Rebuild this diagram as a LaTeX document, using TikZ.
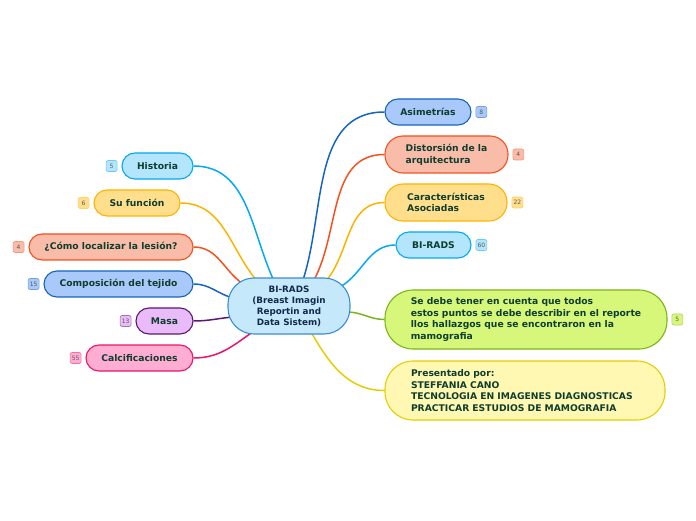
\documentclass[tikz,border=0pt]{standalone}
\usepackage{fontspec}
\setmainfont{DejaVu Sans}
\usetikzlibrary{positioning,backgrounds}

\definecolor{txtcol}{HTML}{0F3D2E}
\definecolor{midtxt}{HTML}{13294B}
\definecolor{midfill}{HTML}{C5E9FB}
\definecolor{midline}{HTML}{3A8DD0}
\definecolor{lbfill}{HTML}{B3E5FC}
\definecolor{lbline}{HTML}{03A9F4}
\definecolor{yefill}{HTML}{FFDF8C}
\definecolor{yeline}{HTML}{FFB300}
\definecolor{orfill}{HTML}{F8BCA9}
\definecolor{orline}{HTML}{F4511E}
\definecolor{blfill}{HTML}{A8C9FA}
\definecolor{blline}{HTML}{1565C0}
\definecolor{pufill}{HTML}{EABBF9}
\definecolor{puline}{HTML}{5B1A72}
\definecolor{pifill}{HTML}{FFADD2}
\definecolor{piline}{HTML}{E8156B}
\definecolor{grfill}{HTML}{D6F77A}
\definecolor{grline}{HTML}{7CB518}
\definecolor{pyfill}{HTML}{FFF8B3}
\definecolor{pyline}{HTML}{E6CD00}

\begin{document}
\begin{tikzpicture}[
  x=1pt, y=1pt,
  node distance=4pt,
  topic/.style 2 args={rectangle, draw=#2, fill=#1, line width=1.1pt,
                       rounded corners=13pt, minimum height=26pt, inner xsep=6pt,
                       text=txtcol, align=left,
                       font=\bfseries\fontsize{9.2}{11.6}\selectfont},
  badge/.style 2 args={rectangle, draw=#2!60, fill=#1, rounded corners=2pt,
                       line width=0.6pt, minimum height=11pt, minimum width=11pt,
                       inner sep=1.5pt, text=black!65,
                       font=\fontsize{6}{7}\selectfont},
  link/.style={line width=1.5pt, draw=#1}
]
\useasboundingbox (0,0) rectangle (696,520);

% ====== CENTRO ======
\node[topic={midfill}{midline}, rounded corners=26pt, minimum width=122pt,
      minimum height=56pt, align=center, text=midtxt,
      font=\bfseries\fontsize{8.8}{11}\selectfont] (bir) at (289,214)
  {BI-RADS\\(Breast Imagin\\Reportin and\\Data Sistem)};

% ====== LADO IZQUIERDO ======
\node[topic={lbfill}{lbline}, minimum width=71pt] (hist) at (157.5,354) {Historia};
\node[topic={yefill}{yeline}, minimum width=86pt] (func) at (137,317) {Su función};
\node[topic={orfill}{orline}, minimum width=164pt] (lesion) at (111,273) {¿Cómo localizar la lesión?};
\node[topic={blfill}{blline}, minimum width=149pt] (tejido) at (118.5,236) {Composición del tejido};
\node[topic={pufill}{puline}, minimum width=57pt] (masa) at (164.5,199) {Masa};
\node[topic={pifill}{piline}, minimum width=107pt] (calc) at (139.5,162) {Calcificaciones};

\node[badge={lbfill}{lbline}, left=of hist] (histn) {5};
\node[badge={yefill}{yeline}, left=of func] (funcn) {6};
\node[badge={orfill}{orline}, left=of lesion] (lesionn) {4};
\node[badge={blfill}{blline}, left=of tejido] (tejidon) {15};
\node[badge={pufill}{puline}, left=of masa] (masan) {13};
\node[badge={pifill}{piline}, left=of calc] (calcn) {55};

% ====== LADO DERECHO ======
\node[topic={blfill}{blline}, minimum width=86pt] (asim) at (428,408) {Asimetrías};
\node[topic={orfill}{orline}, minimum width=123pt, minimum height=37pt,
      rounded corners=18pt] (dist) at (446.5,365.5) {Distorsión de la\\arquitectura};
\node[topic={yefill}{yeline}, minimum width=122pt, minimum height=37pt,
      rounded corners=18pt] (carac) at (446,317.5) {Características\\Asociadas};
\node[topic={lbfill}{lbline}, minimum width=75pt] (birads) at (433.5,275) {BI-RADS};
\node[topic={grfill}{grline}, minimum width=282pt, minimum height=59pt,
      rounded corners=28pt] (debe) at (526,200.5)
  {Se debe tener en cuenta que todos\\estos puntos se debe describir en el reporte\\llos hallazgos que se encontraron en la\\mamografia};
\node[topic={pyfill}{pyline}, text width=228pt, inner xsep=26pt, minimum height=59pt,
      rounded corners=28pt] (pres) at (525,129.5)
  {Presentado por:\\STEFFANIA CANO\\TECNOLOGIA EN IMAGENES DIAGNOSTICAS\\PRACTICAR ESTUDIOS DE MAMOGRAFIA};

\node[badge={blfill}{blline}, right=of asim] (asimn) {8};
\node[badge={orfill}{orline}, right=of dist] (distn) {4};
\node[badge={yefill}{yeline}, right=of carac] (caracn) {22};
\node[badge={lbfill}{lbline}, right=of birads] (biradsn) {60};
\node[badge={grfill}{grline}, right=of debe] (deben) {5};

% ====== RAMAS ======
\begin{scope}[on background layer]
  \draw[link=lbline] (hist.east) to[out=0, in=115] ([shift={(-15,25)}]bir.center);
  \draw[link=yeline] (func.east) to[out=0, in=130] ([shift={(-32,25)}]bir.center);
  \draw[link=orline] (lesion.east) to[out=0, in=145] ([shift={(-46,22)}]bir.center);
  \draw[link=blline] (tejido.east) to[out=0, in=165] ([shift={(-56,8)}]bir.center);
  \draw[link=puline] (masa.east) to[out=0, in=185] ([shift={(-56,-11)}]bir.center);
  \draw[link=piline] (calc.east) to[out=0, in=215] ([shift={(-35,-25)}]bir.center);

  \draw[link=blline] (asim.west) to[out=180, in=72] ([shift={(14,26)}]bir.center);
  \draw[link=orline] (dist.west) to[out=180, in=62] ([shift={(25,26)}]bir.center);
  \draw[link=yeline] (carac.west) to[out=180, in=50] ([shift={(37,25)}]bir.center);
  \draw[link=lbline] (birads.west) to[out=180, in=30] ([shift={(51,19)}]bir.center);
  \draw[link=grline] (debe.west) to[out=180, in=0] ([shift={(58,-6)}]bir.center);
  \draw[link=pyline] (pres.west) to[out=180, in=-60] ([shift={(22,-26)}]bir.center);
\end{scope}

\end{tikzpicture}
\end{document}
